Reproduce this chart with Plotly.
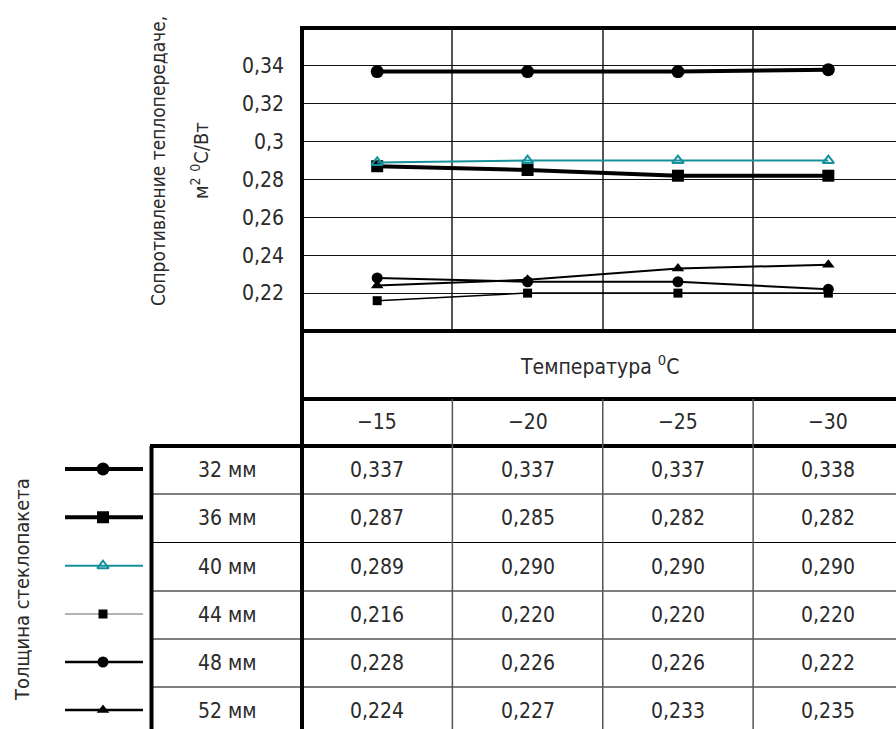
import plotly.graph_objects as go

# ---------------- data ----------------
temperatures = ["\u221215", "\u221220", "\u221225", "\u221230"]
thickness = ["32 мм", "36 мм", "40 мм", "44 мм", "48 мм", "52 мм"]
r_32 = [0.337, 0.337, 0.337, 0.338]
r_36 = [0.287, 0.285, 0.282, 0.282]
r_40 = [0.289, 0.290, 0.290, 0.290]
r_44 = [0.216, 0.220, 0.220, 0.220]
r_48 = [0.228, 0.226, 0.226, 0.222]
r_52 = [0.224, 0.227, 0.233, 0.235]
series = [r_32, r_36, r_40, r_44, r_48, r_52]
y_ticks = [0.22, 0.24, 0.26, 0.28, 0.30, 0.32, 0.34]
y_tick_text = ["0,22", "0,24", "0,26", "0,28", "0,3", "0,32", "0,34"]

# ---------------- styles ----------------
W, H = 896, 729
FONT = "DejaVu Sans Condensed, Liberation Sans Narrow, sans-serif"
TXT = "#2a2a2a"
TEAL = "#14919b"
styles = [
    dict(color="black", width=4, symbol="circle", size=13, mlw=0, lcolor="black", lw=4),
    dict(color="black", width=4, symbol="square", size=12, mlw=0, lcolor="black", lw=4),
    dict(color=TEAL, width=2, symbol="triangle-up-open", size=10, mlw=2, lcolor=TEAL, lw=2),
    dict(color="black", width=1.5, symbol="square", size=9, mlw=0, lcolor="#666666", lw=1.2),
    dict(color="black", width=2, symbol="circle", size=11, mlw=0, lcolor="black", lw=2.5),
    dict(color="black", width=2, symbol="triangle-up", size=11, mlw=0, lcolor="black", lw=2.5),
]

def px(x):
    return x / W

def py(y):
    return 1 - y / H

PL, PT, PB = 302, 28, 331          # plot area pixel edges
row_edges = [446, 494, 542.5, 591, 639, 687, 735]
col_lines = [0.5, 1.5, 2.5]

xs = list(range(len(temperatures)))
fig = go.Figure()

for vals, st, name in zip(series, styles, thickness):
    fig.add_trace(go.Scatter(
        x=xs, y=vals, mode="lines+markers", name=name,
        line=dict(color=st["color"], width=st["width"]),
        marker=dict(symbol=st["symbol"], size=st["size"], color=st["color"],
                    line=dict(width=st["mlw"], color=st["color"])),
        xaxis="x", yaxis="y", showlegend=False, cliponaxis=False))

# legend samples in the left column (overlay axes in pixel units)
for i, st in enumerate(styles):
    yc = (row_edges[i] + row_edges[i + 1]) / 2 - 1
    fig.add_trace(go.Scatter(
        x=[65, 143], y=[yc, yc], mode="lines",
        line=dict(color=st["lcolor"], width=st["lw"]),
        xaxis="x2", yaxis="y2", showlegend=False))
    fig.add_trace(go.Scatter(
        x=[103], y=[yc], mode="markers",
        marker=dict(symbol=st["symbol"], size=st["size"], color=st["color"],
                    line=dict(width=st["mlw"], color=st["color"])),
        xaxis="x2", yaxis="y2", showlegend=False))

shapes = []
def line(x0, y0, x1, y1, w, c="black"):
    shapes.append(dict(type="line", xref="paper", yref="paper",
                       x0=px(x0), y0=py(y0), x1=px(x1), y1=py(y1),
                       line=dict(color=c, width=w)))

# thick frame lines
line(PL, PT, PL, H + 5, 4)
line(PL - 2, PT, W + 5, PT, 4)
line(PL, PB, W + 5, PB, 4)
line(PL, 399, W + 5, 399, 4)
line(150, 446, W + 5, 446, 4)
line(151.5, 446, 151.5, H + 5, 4)
# thin row lines in table
for ye in row_edges[1:-1]:
    line(151.5, ye, W + 5, ye, 1.2)
# column lines in table (data coords for x)
for cx in col_lines:
    shapes.append(dict(type="line", xref="x", yref="paper", x0=cx, x1=cx,
                       y0=py(399), y1=py(H + 5), line=dict(color="#555555", width=1.5)))

annotations = []
def text(x, y, s, size=21, xref="paper", angle=0, xanchor="center"):
    annotations.append(dict(x=x, y=py(y), xref=xref, yref="paper", text=s,
                            showarrow=False, textangle=angle, xanchor=xanchor,
                            yanchor="middle",
                            font=dict(family=FONT, size=size, color=TXT)))

text(px(599), 365, "Температура <sup>0</sup>C")
for j, t in enumerate(temperatures):
    text(j, 422, t, xref="x")
for i, (name, vals) in enumerate(zip(thickness, series)):
    yc = (row_edges[i] + row_edges[i + 1]) / 2
    text(px(227), yc, name)
    for j, v in enumerate(vals):
        text(j, yc, f"{v:.3f}".replace(".", ","), xref="x")

text(px(158), 161, "Сопротивление теплопередаче,", size=19, angle=-90)
text(px(200), 161, "м<sup>2</sup> <sup>0</sup>C/Вт", size=20, angle=-90)
text(px(22), 590, "Толщина стеклопакета", size=20, angle=-90)

fig.update_layout(
    width=W, height=H, margin=dict(l=0, r=0, t=0, b=0),
    paper_bgcolor="white", plot_bgcolor="rgba(0,0,0,0)",
    xaxis=dict(domain=[px(PL), 1], range=[-0.5, 3.45], tickvals=col_lines,
               showticklabels=False, showgrid=True, gridcolor="#555555",
               gridwidth=1.5, zeroline=False, showline=False, fixedrange=True),
    yaxis=dict(domain=[py(PB), py(PT)], range=[0.2, 0.36], tickvals=y_ticks,
               ticktext=y_tick_text, showgrid=True, gridcolor="#111111",
               gridwidth=1, zeroline=False, showline=False, ticks="",
               ticklabelstandoff=17,
               tickfont=dict(family=FONT, size=21, color=TXT), fixedrange=True),
    xaxis2=dict(domain=[0, 1], range=[0, W], visible=False, anchor="y2", fixedrange=True),
    yaxis2=dict(domain=[0, 1], range=[H, 0], visible=False, anchor="x2", fixedrange=True),
    shapes=shapes, annotations=annotations,
)

fig.write_html("out.html")
